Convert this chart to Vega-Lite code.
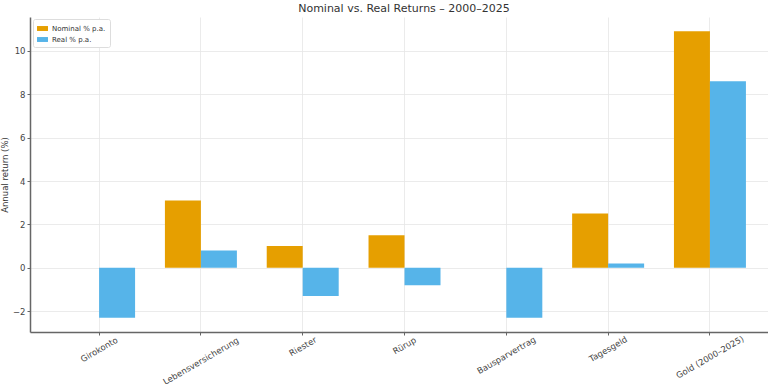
{
  "$schema": "https://vega.github.io/schema/vega-lite/v6.json",
  "width": 738,
  "height": 315,
  "autosize": {"type": "none"},
  "padding": {"left": 30, "top": 17, "right": 0, "bottom": 52},
  "background": "white",
  "title": {
    "text": "Nominal vs. Real Returns – 2000–2025",
    "font": "DejaVu Sans",
    "fontSize": 11,
    "fontWeight": "normal",
    "color": "#333333",
    "anchor": "middle",
    "dx": 5,
    "offset": 3
  },
  "data": {
    "values": [
      {"product": "Girokonto", "type": "Nominal % p.a.", "value": 0.0},
      {"product": "Girokonto", "type": "Real % p.a.", "value": -2.3},
      {"product": "Lebensversicherung", "type": "Nominal % p.a.", "value": 3.1},
      {"product": "Lebensversicherung", "type": "Real % p.a.", "value": 0.8},
      {"product": "Riester", "type": "Nominal % p.a.", "value": 1.0},
      {"product": "Riester", "type": "Real % p.a.", "value": -1.3},
      {"product": "Rürup", "type": "Nominal % p.a.", "value": 1.5},
      {"product": "Rürup", "type": "Real % p.a.", "value": -0.8},
      {"product": "Bausparvertrag", "type": "Nominal % p.a.", "value": 0.0},
      {"product": "Bausparvertrag", "type": "Real % p.a.", "value": -2.3},
      {"product": "Tagesgeld", "type": "Nominal % p.a.", "value": 2.5},
      {"product": "Tagesgeld", "type": "Real % p.a.", "value": 0.2},
      {"product": "Gold (2000–2025)", "type": "Nominal % p.a.", "value": 10.9},
      {"product": "Gold (2000–2025)", "type": "Real % p.a.", "value": 8.6}
    ]
  },
  "config": {
    "view": {"stroke": null},
    "font": "DejaVu Sans"
  },
  "mark": {"type": "bar", "opacity": 1},
  "encoding": {
    "x": {
      "field": "product",
      "type": "nominal",
      "sort": null,
      "scale": {"paddingInner": 0.293, "paddingOuter": 0.271, "align": 0.6},
      "axis": {
        "title": null,
        "bandPosition": 0.5,
        "labelAngle": -30,
        "labelAlign": "center",
        "labelBaseline": "middle",
        "labelFontSize": 8.5,
        "labelColor": "#444444",
        "labelPadding": {
          "condition": [
            {"test": "datum.value === 'Lebensversicherung'", "value": 25.5},
            {"test": "datum.value === 'Riester'", "value": 11},
            {"test": "datum.value === 'Rürup'", "value": 10},
            {"test": "datum.value === 'Bausparvertrag'", "value": 19.7},
            {"test": "datum.value === 'Tagesgeld'", "value": 13.5},
            {"test": "datum.value === 'Gold (2000–2025)'", "value": 21.5}
          ],
          "value": 14
        },
        "grid": true,
        "gridColor": "#e6e6e6",
        "gridWidth": 0.8,
        "domainColor": "#666666",
        "domainWidth": 1.5,
        "tickColor": "#666666",
        "tickSize": 3
      }
    },
    "xOffset": {"field": "type", "type": "nominal"},
    "y": {
      "field": "value",
      "type": "quantitative",
      "scale": {"domain": [-2.96, 11.56], "nice": false, "zero": false},
      "axis": {
        "title": "Annual return (%)",
        "titleFontSize": 8.5,
        "titleFontWeight": "normal",
        "titleColor": "#333333",
        "titlePadding": 3,
        "values": [-2, 0, 2, 4, 6, 8, 10],
        "labelExpr": "datum.value < 0 ? '−' + abs(datum.value) : datum.label",
        "labelFontSize": 8.5,
        "labelColor": "#444444",
        "grid": true,
        "gridColor": "#e6e6e6",
        "gridWidth": 0.8,
        "domainColor": "#666666",
        "domainWidth": 1.5,
        "tickColor": "#666666",
        "tickSize": 3
      }
    },
    "color": {
      "field": "type",
      "type": "nominal",
      "scale": {"domain": ["Nominal % p.a.", "Real % p.a."], "range": ["#E69F00", "#56B4E9"]},
      "legend": {
        "title": null,
        "orient": "none",
        "legendX": 3,
        "legendY": 2,
        "fillColor": "white",
        "strokeColor": "#dddddd",
        "padding": 4,
        "cornerRadius": 2,
        "labelFontSize": 7,
        "labelColor": "#333333",
        "symbolType": "M-1,-0.45H1V0.45H-1Z",
        "symbolSize": 120,
        "symbolStrokeWidth": 0,
        "rowPadding": 2
      }
    }
  }
}
